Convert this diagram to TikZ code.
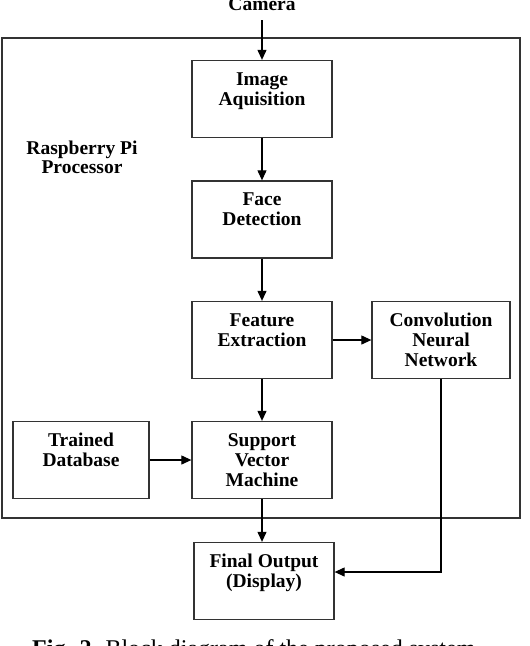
\documentclass[tikz,border=0pt]{standalone}
\usepackage{fontspec}
\setmainfont{Liberation Serif}
\usetikzlibrary{arrows.meta}
\begin{document}
\begin{tikzpicture}[x=1pt,y=-1pt,
  blk/.style={draw=black!80, line width=1.3pt, minimum width=140pt, minimum height=77pt,
    inner sep=0pt, align=center, font=\bfseries\fontsize{19.5}{20}\selectfont},
  lbl/.style={align=center, inner sep=0pt, font=\bfseries\fontsize{19.5}{19}\selectfont},
  arr/.style={line width=1.1pt, -{Triangle[length=10pt,width=9pt]}},
  ln/.style={line width=1.1pt}]
\useasboundingbox (0,0) rectangle (530,646);
\fill[white] (0,0) rectangle (530,646);
% frame
\draw[draw=black!80, line width=1.5pt] (2,38) rectangle (520,518);
\node[lbl, anchor=base] (cam) at (262,10) {Camera};
\node[lbl, anchor=base] (rpi) at (82,173) {Raspberry Pi\\Processor};
% blocks
\node[blk] (img) at (262,99) {Image\\Aquisition\\\mbox{}};
\node[blk] (face) at (262,219.5) {Face\\Detection\\\mbox{}};
\node[blk] (feat) at (262,340) {Feature\\Extraction\\\mbox{}};
\node[blk, minimum width=138pt] (cnn) at (441,340) {Convolution\\Neural\\Network};
\node[blk] (svm) at (262,460) {Support\\Vector\\Machine};
\node[blk, minimum width=136pt] (tdb) at (81,460) {Trained\\Database\\\mbox{}};
\node[blk] (fin) at (264,581) {Final Output\\(Display)\\\mbox{}};
\coordinate (camb) at (262,20);
% connectors
\draw[arr] (camb) -- (img.north);
\draw[arr] (img) -- (face);
\draw[arr] (face) -- (feat);
\draw[arr] (feat) -- (cnn);
\draw[arr] (feat) -- (svm);
\draw[arr] (tdb) -- (svm);
\draw[arr] (svm.south) -- (svm.south |- fin.north);
\draw[arr] (cnn.south) |- ([yshift=9pt]fin.east);
% caption
\node[anchor=base west, inner sep=0pt, font=\fontsize{24}{26}\selectfont] (cap) at (32,656)
  {\textbf{Fig. 2.} Block diagram of the proposed system.};
\end{tikzpicture}
\end{document}
